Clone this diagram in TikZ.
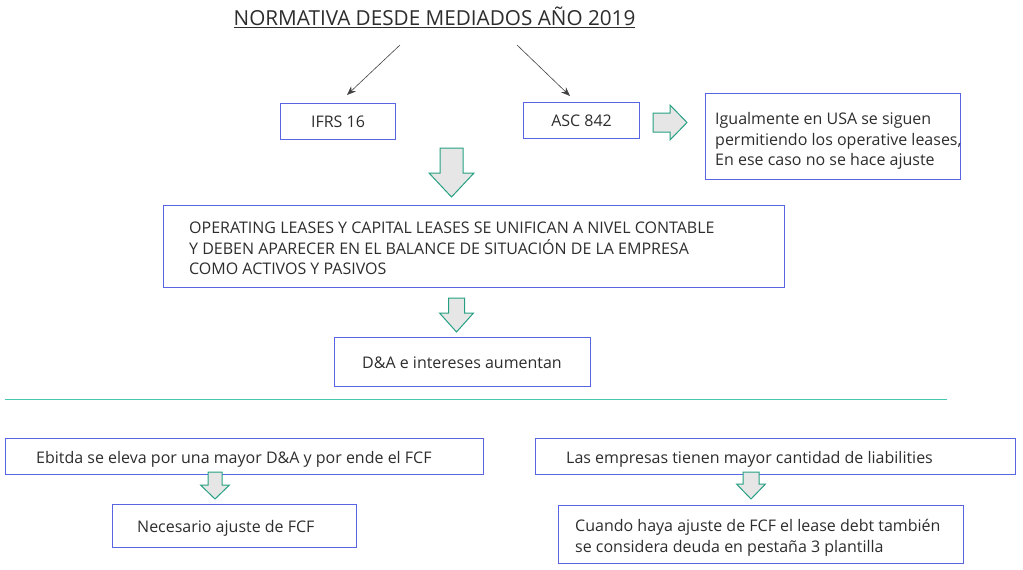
\documentclass[tikz,border=0pt]{standalone}
\usepackage{fontspec}
\setmainfont{Open Sans}
\usetikzlibrary{arrows.meta}
\definecolor{boxblue}{RGB}{88,100,228}
\definecolor{teal}{RGB}{38,160,130}
\definecolor{lineteal}{RGB}{70,200,175}
\definecolor{txtgray}{RGB}{45,45,45}
\definecolor{arrfill}{RGB}{230,230,230}
\tikzset{
  box/.style={draw=boxblue, line width=1.1pt, anchor=north west, inner sep=0pt},
  txt/.style={text=txtgray, font=\fontsize{16}{20.5}\selectfont, inner sep=0pt, align=left},
  conn/.style={draw=txtgray!90, line width=0.6pt, -{Stealth[length=9pt,width=7pt]}},
  blk/.style={draw=teal, fill=arrfill, line width=1pt, line join=miter},
}
\newcommand{\blkdown}[6]{% cx, top, shaft hw, head y, tip y, head hw
  \draw[blk] (#1-#3,#2) -- (#1+#3,#2) -- (#1+#3,#4) -- (#1+#6,#4) -- (#1,#5) -- (#1-#6,#4) -- (#1-#3,#4) -- cycle;}
\begin{document}
\begin{tikzpicture}[x=1pt,y=-1pt]
\useasboundingbox (0,0) rectangle (1023,570);
% title
\node[text=txtgray, font=\fontsize{20.7}{24}\selectfont, inner sep=0pt] (title) at (434.5,17) {\underline{NORMATIVA DESDE MEDIADOS AÑO 2019}};
\coordinate (t1) at (400,45);
\coordinate (t2) at (517,45);
\coordinate (e1) at (347,95);
\coordinate (e2) at (570,96);
% boxes
\node[box, minimum width=115pt, minimum height=36pt] (ifrs) at (280,103) {};
\node[txt] at (ifrs.center) {IFRS 16};
\node[box, minimum width=116pt, minimum height=36pt] (asc) at (523,102) {};
\node[txt] at (asc.center) {ASC 842};
\node[box, minimum width=255pt, minimum height=86pt] (usa) at (705,93) {};
\node[txt, anchor=west] at ([xshift=10pt,yshift=-4.5pt]usa.west) {Igualmente en USA se siguen\\permitiendo los operative leases,\\En ese caso no se hace ajuste};
\node[box, minimum width=621pt, minimum height=82pt] (big) at (163,205) {};
\node[txt, anchor=west] at ([xshift=26pt,yshift=-2pt]big.west) {OPERATING LEASES Y CAPITAL LEASES SE UNIFICAN A NIVEL CONTABLE\\Y DEBEN APARECER EN EL BALANCE DE SITUACIÓN DE LA EMPRESA\\COMO ACTIVOS Y PASIVOS};
\node[box, minimum width=256pt, minimum height=49pt] (da) at (334,337) {};
\node[txt, anchor=west] at ([xshift=28pt,yshift=-1pt]da.west) {D\&A e intereses aumentan};
% separator
\coordinate (s1) at (5,399);
\coordinate (s2) at (947,399);
\draw[lineteal, line width=0.8pt] (s1) -- (s2);
\node[box, minimum width=478pt, minimum height=36pt] (ebitda) at (5,438) {};
\node[txt, anchor=west] at ([xshift=31pt,yshift=-3pt]ebitda.west) {Ebitda se eleva por una mayor D\&A y por ende el FCF};
\node[box, minimum width=244pt, minimum height=43pt] (nec) at (112,504) {};
\node[txt, anchor=west] at ([xshift=25pt,yshift=-2pt]nec.west) {Necesario ajuste de FCF};
\node[box, minimum width=480pt, minimum height=36pt] (liab) at (535,438) {};
\node[txt, anchor=west] at ([xshift=31pt,yshift=-3pt]liab.west) {Las empresas tienen mayor cantidad de liabilities};
\node[box, minimum width=405pt, minimum height=58pt] (cuando) at (558,505) {};
\node[txt, anchor=west] at ([xshift=17pt,yshift=-3pt]cuando.west) {Cuando haya ajuste de FCF el lease debt también\\se considera deuda en pestaña 3 plantilla};
% connectors
\draw[conn] (t1) -- (e1);
\draw[conn] (t2) -- (e2);
% block arrows
\draw[blk] (653,113) -- (670,113) -- (670,105) -- (687,122.5) -- (670,140) -- (670,132) -- (653,132) -- cycle;
\blkdown{451.5}{148}{11.5}{173}{197}{22.5}
\blkdown{456.5}{298}{8}{313}{332}{17}
\blkdown{215}{472}{7}{485}{499}{14.5}
\blkdown{751}{472}{8}{484}{499}{14.5}
\end{tikzpicture}
\end{document}
